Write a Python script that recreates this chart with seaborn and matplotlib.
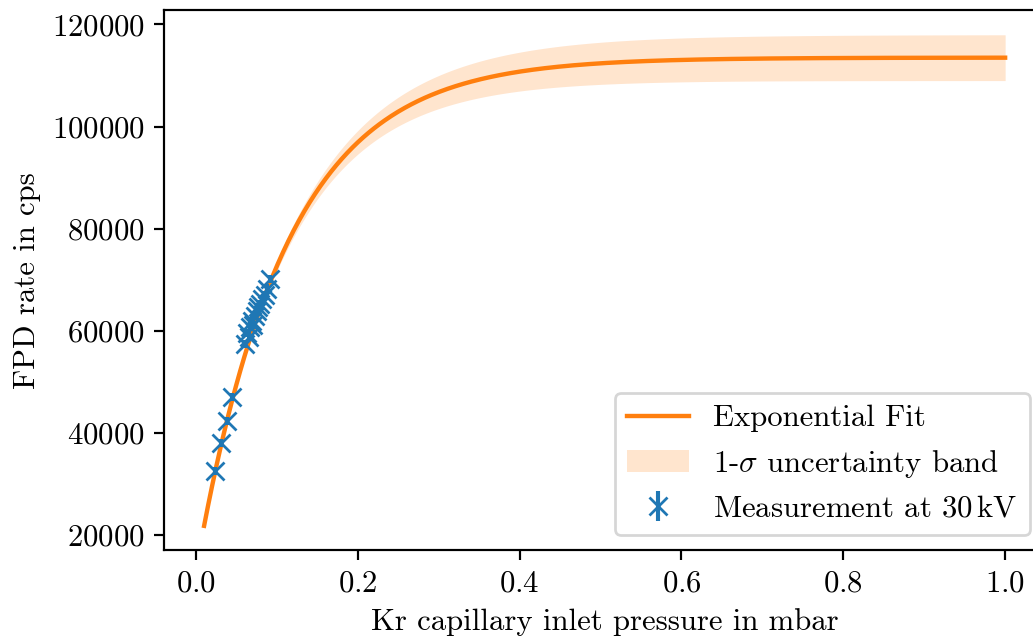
import numpy as np
import pandas as pd
import matplotlib
matplotlib.use("Agg")
import matplotlib.pyplot as plt
import seaborn as sns

# fit parameters: y = A - B * exp(-k * x)
fit_A = 113500.0
fit_B = 100300.0
fit_k = 9.0
# half-width of the 1-sigma band grows towards dA at high pressure
band_dA = 4500.0
band_m = 6.3
x_min, x_max = 0.01, 1.0

# measurements at 30 kV
meas_x = [0.0235, 0.0309, 0.0379, 0.0441,
          0.060, 0.063, 0.065, 0.067, 0.069, 0.071, 0.073,
          0.075, 0.077, 0.079, 0.082, 0.085, 0.088, 0.092]
meas_y = [32500, 38000, 42400, 47000,
          57500, 59600, 58900, 60800, 61900, 61200, 63000,
          63900, 64600, 65300, 66200, 67100, 68300, 70200]
meas_err = [800] * len(meas_x)

plt.rcParams["font.family"] = ["cmr10", "DejaVu Serif"]
plt.rcParams["mathtext.fontset"] = "cm"
plt.rcParams["axes.formatter.use_mathtext"] = True
plt.rcParams["font.size"] = 11.25
plt.rcParams["axes.unicode_minus"] = False

x_fit = np.linspace(x_min, x_max, 600)
y_fit = fit_A - fit_B * np.exp(-fit_k * x_fit)
half = band_dA * (1 - np.exp(-band_m * x_fit)) ** 2
fit_df = pd.DataFrame({"p": x_fit, "rate": y_fit})

dpi = 197
fig = plt.figure(figsize=(1033 / dpi, 639 / dpi), dpi=dpi)
ax = fig.add_axes([0.1588, 0.1385, 0.853, 0.8455])

sns.lineplot(data=fit_df, x="p", y="rate", ax=ax, color="#ff7f0e",
             linewidth=1.6, label="Exponential Fit")
ax.fill_between(x_fit, y_fit - half, y_fit + half, color="#ff7f0e",
                alpha=0.2, linewidth=0, label=r"1-$\sigma$ uncertainty band")
ax.errorbar(meas_x, meas_y, yerr=meas_err, fmt="x", color="#1f77b4",
            markersize=6.5, label=r"Measurement at 30$\,$kV")

ax.set_xticks([0.0, 0.2, 0.4, 0.6, 0.8, 1.0])
ax.set_yticks([20000, 40000, 60000, 80000, 100000, 120000])
ax.set_xlabel("Kr capillary inlet pressure in mbar")
ax.set_ylabel("FPD rate in cps")

ax.legend(loc="lower right")

fig.savefig("out.png", dpi=dpi)
